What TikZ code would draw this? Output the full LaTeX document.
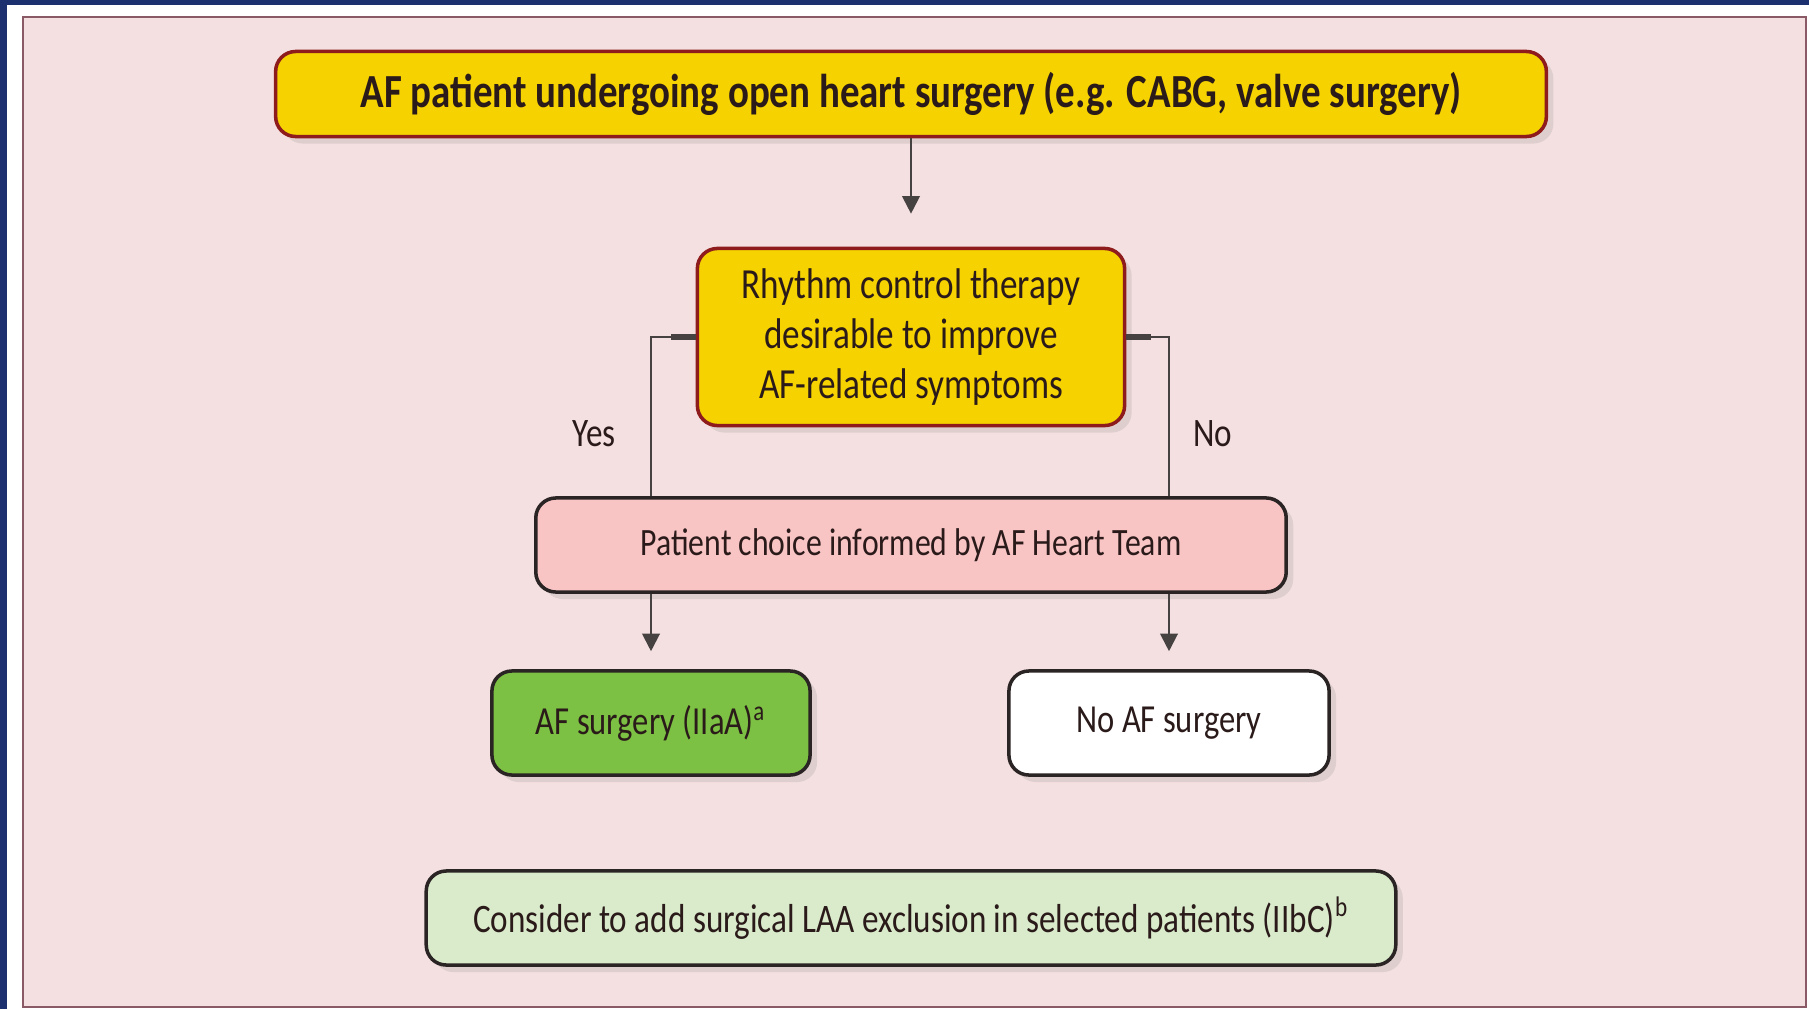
\documentclass[tikz,border=0pt]{standalone}
\usepackage{fontspec}
\setmainfont{Carlito}[FakeStretch=0.82]
\usepackage{xcolor}
\usepackage{tikz}
\usetikzlibrary{positioning,arrows.meta,shadows}

\definecolor{frameblue}{HTML}{1C2F6E}
\definecolor{panelpink}{HTML}{F4E0E0}
\definecolor{panelline}{HTML}{8A5A66}
\definecolor{boxyellow}{HTML}{F5D200}
\definecolor{boxred}{HTML}{8E1C1C}
\definecolor{boxpink}{HTML}{F8C4C4}
\definecolor{boxgreen}{HTML}{7CC143}
\definecolor{boxlightgreen}{HTML}{D9EBCB}
\definecolor{boxdark}{HTML}{2B2424}
\definecolor{linegray}{HTML}{474242}
\definecolor{txtdark}{HTML}{2A1A1A}

\tikzset{
    % basic style
    fbase/.style = {draw=boxdark, line width=1pt, rounded corners=0.2cm, align=center, text=txtdark, inner sep=1mm,
                    drop shadow={shadow xshift=2pt, shadow yshift=-2pt, opacity=0.18}},
    % Terminal style (top box)
    fterm/.style = {fbase, draw=boxred, fill=boxyellow, font=\fontsize{13.5}{16}\selectfont\bfseries},
    % Decision style (yellow question)
    fdeci/.style = {fbase, draw=boxred, fill=boxyellow, font=\fontsize{12.2}{14.2}\selectfont},
    % Process style (choice)
    fproc/.style = {fbase, fill=boxpink, font=\fontsize{11}{13}\selectfont},
    % Outcome styles
    fyes/.style = {fbase, fill=boxgreen, font=\fontsize{11.3}{13}\selectfont},
    fno/.style = {fbase, fill=white, font=\fontsize{11.3}{13}\selectfont},
    % Extra note style
    fnote/.style = {fbase, fill=boxlightgreen, font=\fontsize{11.5}{13}\selectfont},
    % Node label style (plain text)
    nlabel/.style = {text=txtdark, font=\fontsize{11.5}{13}\selectfont},
    % Flowchart Connection style (arrows)
    fconc/.style = {draw=linegray, line width=0.6pt, -{Triangle[width=5pt,length=5pt]}},
    % Simple Connection style (lines)
    sconc/.style = {draw=linegray, line width=0.6pt}
}

\begin{document}
\begin{tikzpicture}[x=0.01cm, y=-0.01cm]
% frame and panel
\fill[white] (0,0) rectangle (1809,1009);
\useasboundingbox (0,0) rectangle (1809,1009);
\fill[frameblue] (0,0) rectangle (1809,5);
\fill[frameblue] (0,0) rectangle (7,1009);
\draw[panelline, line width=0.6pt, fill=panelpink] (23,17) rectangle (1806,1007);

\node [fterm, minimum width=12.7cm, minimum height=0.85cm] (top) at (911,94)
  {AF patient undergoing open heart surgery (e.g. CABG, valve surgery)};
\node [fdeci, minimum width=4.27cm, minimum height=1.77cm] (rhythm) at (911,337)
  {Rhythm control therapy\\desirable to improve\\AF-related symptoms};
\node [fproc, minimum width=7.5cm, minimum height=0.94cm] (choice) at (911,545)
  {Patient choice informed by AF Heart Team};
\node [fyes, minimum width=3.18cm, minimum height=1.04cm] (afs) at (651,723)
  {AF surgery (IIaA)\textsuperscript{a}};
\node [fno, minimum width=3.2cm, minimum height=1.04cm] (noafs) at (1169,723)
  {No AF surgery};
\node [fnote, minimum width=9.69cm, minimum height=0.94cm] (laa) at (911,918)
  {Consider to add surgical LAA exclusion in selected patients (IIbC)\textsuperscript{b}};

\node [nlabel] (yes) at (594,434) {Yes};
\node [nlabel] (no) at (1213,434) {No};

% connectors
\draw [fconc, shorten >=0.33cm] (top) -- (rhythm);
\draw [sconc] (rhythm.west) -| (afs.north |- choice.north);
\draw [sconc] (rhythm.east) -| (noafs.north |- choice.north);
\draw [sconc, line width=1.5pt] (rhythm.west) -- ++(-25,0);
\draw [sconc, line width=1.5pt] (rhythm.east) -- ++(25,0);
\draw [fconc, shorten >=0.18cm] (afs.north |- choice.south) -- (afs.north);
\draw [fconc, shorten >=0.18cm] (noafs.north |- choice.south) -- (noafs.north);

\end{tikzpicture}
\end{document}
